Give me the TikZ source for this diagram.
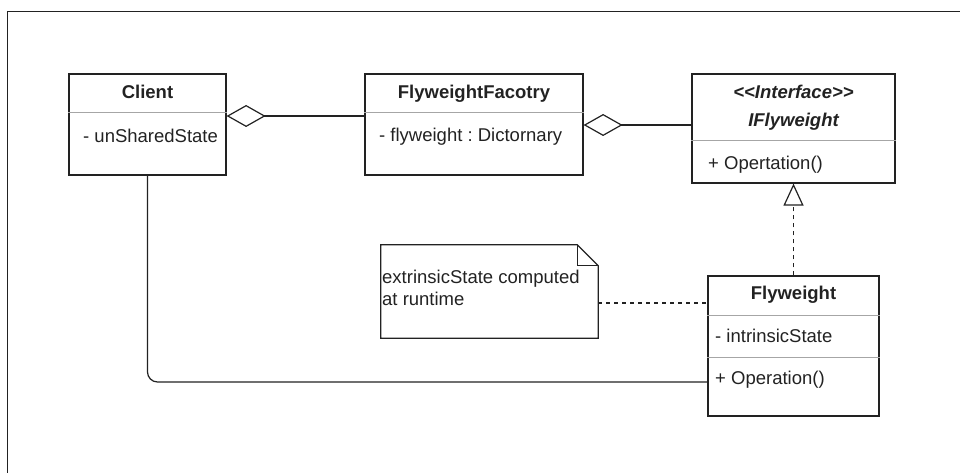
\documentclass[tikz,border=0pt]{standalone}
\usepackage{fontspec}
\setmainfont{Liberation Sans}
\usetikzlibrary{arrows.meta}
\frenchspacing

\definecolor{ink}{HTML}{222222}
\definecolor{rule}{HTML}{A6A6A6}

\tikzset{
  base/.style={font=\fontsize{18.5}{22.2}\selectfont, text=ink, inner sep=0pt,
               text height=13.2pt, text depth=0pt},
  classbox/.style={draw=ink, line width=1.2pt, inner sep=0pt},
  title/.style={base, font=\fontsize{18.5}{22.2}\selectfont\bfseries},
  ititle/.style={base, font=\fontsize{18.5}{22.2}\selectfont\bfseries\itshape},
  member/.style={base, anchor=west},
  divider/.style={draw=rule, line width=1pt},
  link/.style={draw=ink, line width=1.2pt},
  dashlink/.style={link, dash pattern=on 4pt off 4pt},
  aggr/.style={{Diamond[open, length=39pt, width=22pt, line width=1.2pt]}-},
  realize/.style={-{Triangle[open, length=22pt, width=20pt, line width=1.2pt]}},
}

\begin{document}
\begin{tikzpicture}[x=1pt, y=-1pt]
  \useasboundingbox (0,0) rectangle (960,473);

  % partial outer frame
  \draw[ink, line width=1.5pt] (7.5,473) -- (7.5,11.5) -- (960,11.5);

  % Client
  \node[classbox, minimum width=157pt, minimum height=101pt] (client) at (147.5,124.5) {};
  \draw[divider] (client.west |- 0,113) -- (client.east |- 0,113);
  \node[title] (clientT) at (147.5,92) {Client};
  \node[member] (clientA) at (83,136) {- unSharedState};

  % FlyweightFacotry
  \node[classbox, minimum width=218pt, minimum height=101pt] (factory) at (474,124.5) {};
  \draw[divider] (factory.west |- 0,113) -- (factory.east |- 0,113);
  \node[title] (factoryT) at (474,92) {FlyweightFacotry};
  \node[member] (factoryA) at (379,135) {- flyweight : Dictornary};

  % IFlyweight interface
  \node[classbox, minimum width=203pt, minimum height=109pt] (ifly) at (793.5,128.5) {};
  \draw[divider] (ifly.west |- 0,141) -- (ifly.east |- 0,141);
  \node[ititle] (iflyS) at (793.5,92) {<\kern0pt<Interface>\kern0pt>};
  \node[ititle] (iflyT) at (793.5,120) {IFlyweight};
  \node[member] (iflyM) at (708,163) {+ Opertation()};

  % Flyweight
  \node[classbox, minimum width=171pt, minimum height=140pt] (fly) at (793.5,346) {};
  \draw[divider] (fly.west |- 0,315) -- (fly.east |- 0,315);
  \draw[divider] (fly.west |- 0,357) -- (fly.east |- 0,357);
  \node[title] (flyT) at (793.5,293) {Flyweight};
  \node[member] (flyA) at (715,336) {- intrinsicState};
  \node[member] (flyM) at (715,378) {+ Operation()};

  % note with folded corner
  \node[minimum width=217pt, minimum height=93pt, inner sep=0pt] (note) at (489.5,291.5) {};
  \draw[link] (note.north west) -- ([xshift=-21pt]note.north east)
    -- ([yshift=-21pt]note.north east) -- (note.south east)
    -- (note.south west) -- cycle;
  \draw[link] ([xshift=-21pt]note.north east) |- ([yshift=-21pt]note.north east);
  \node[member] (noteL1) at (382,277) {extrinsicState computed};
  \node[member] (noteL2) at (382,299) {at runtime};

  % connectors
  \draw[link, aggr] ([yshift=8.5pt]client.east) -- ([yshift=8.5pt]factory.west);
  \draw[link, aggr] ([yshift=-0.5pt]factory.east) -- ([yshift=3.5pt]ifly.west);
  \draw[dashlink, realize] (fly.north) -- (ifly.south);
  \draw[dashlink] ([yshift=-11.5pt]note.east) -- ([yshift=43pt]fly.west);
  \draw[link, rounded corners=10pt] (client.south) |- ([yshift=-36pt]fly.west);
\end{tikzpicture}
\end{document}
